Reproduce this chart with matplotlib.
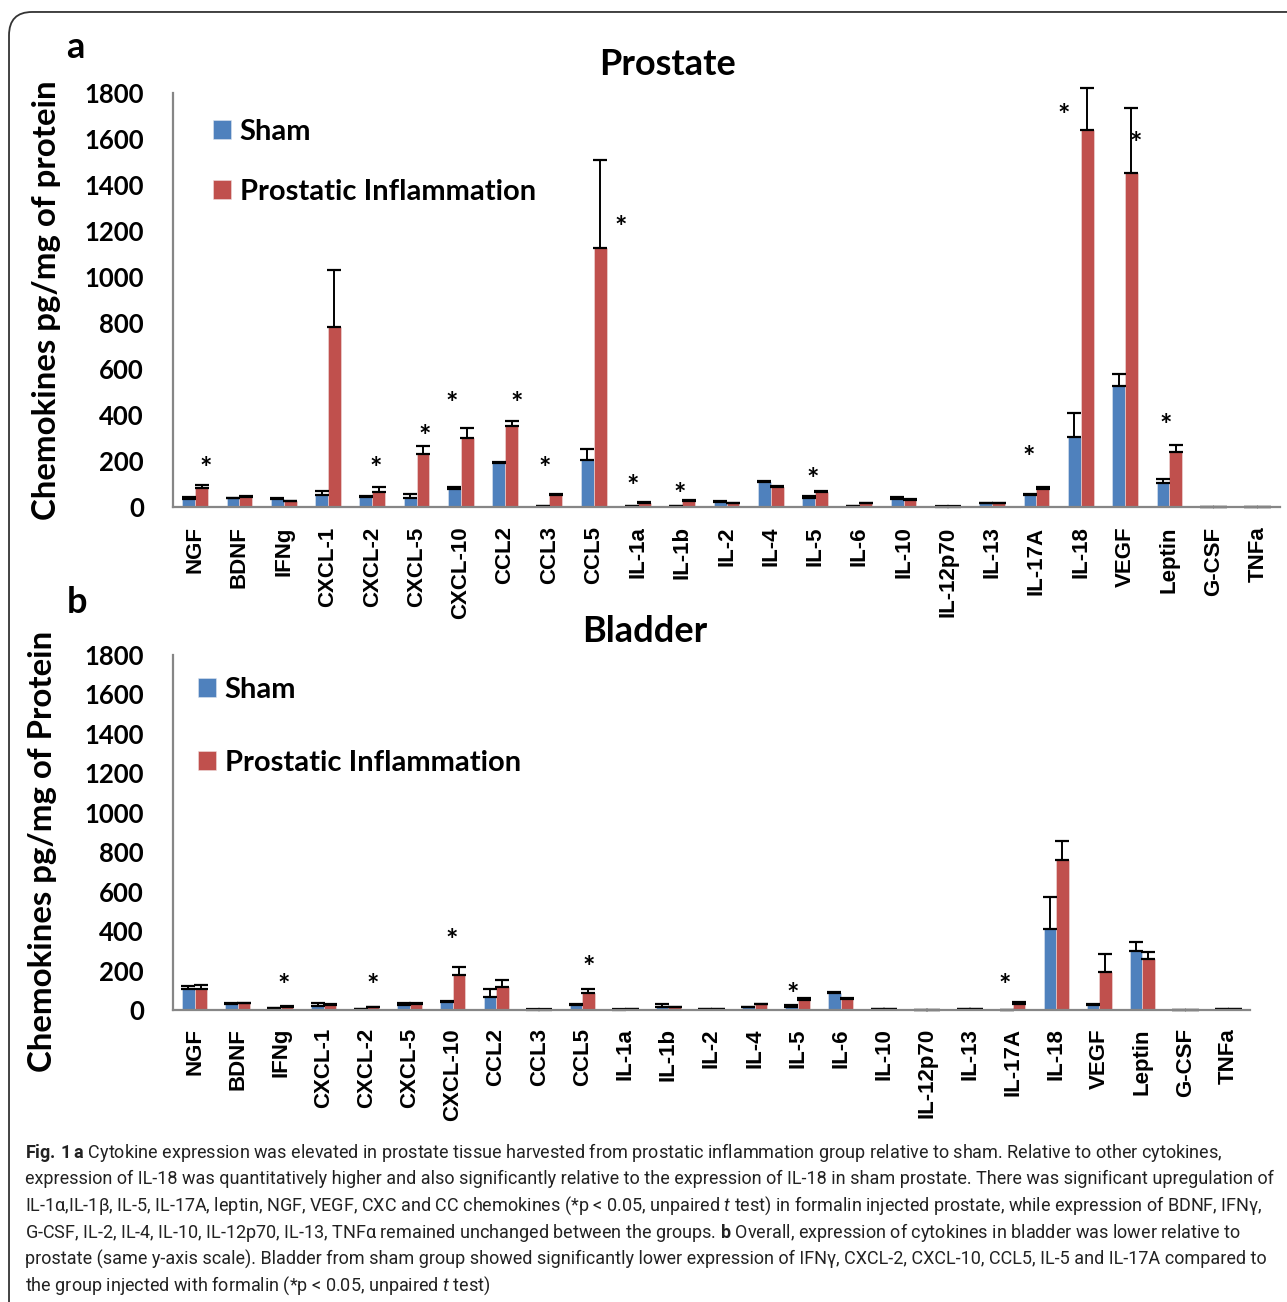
import matplotlib
matplotlib.use("Agg")
import matplotlib.pyplot as plt
import numpy as np
from matplotlib import font_manager
from matplotlib.patches import FancyBboxPatch
from matplotlib.transforms import offset_copy

# categorias (iguais nos dois painéis)
cats = ['NGF', 'BDNF', 'IFNg', 'CXCL-1', 'CXCL-2', 'CXCL-5', 'CXCL-10', 'CCL2',
        'CCL3', 'CCL5', 'IL-1a', 'IL-1b', 'IL-2', 'IL-4', 'IL-5', 'IL-6', 'IL-10',
        'IL-12p70', 'IL-13', 'IL-17A', 'IL-18', 'VEGF', 'Leptin', 'G-CSF', 'TNFa']

# painel a - próstata
prostate_sham = [35, 38, 33, 50, 42, 40, 77, 193, 5, 204, 5, 3, 22, 110, 40, 5,
                 36, 2, 17, 51, 303, 527, 103, 0, 0]
prostate_sham_err = [10, 3, 7, 18, 4, 15, 11, 3, 1, 47, 1, 1, 2, 5, 6, 1,
                     6, 1, 2, 6, 104, 51, 19, 0, 0]
prostate_pi = [83, 45, 24, 783, 65, 229, 301, 352, 52, 1126, 19, 26, 16, 88, 67, 17,
               32, 2, 17, 78, 1639, 1452, 240, 0, 0]
prostate_pi_err = [13, 3, 3, 247, 23, 36, 41, 22, 3, 383, 4, 3, 2, 3, 3, 2,
                   2, 1, 2, 7, 183, 283, 28, 0, 0]
prostate_star_idx = [0, 4, 5, 6, 7, 8, 9, 10, 11, 14, 19, 20, 21, 22]
prostate_star_dx = [0.23, 0.07, 0.19, -0.2, 0.27, -0.1, 0.6, -0.12, -0.05, -0.05,
                    -0.18, -0.38, 0.24, -0.09]
prostate_star_y = [200, 200, 340, 483, 483, 200, 1248, 122, 88, 153, 248, 1735, 1613, 388]

# painel b - bexiga
bladder_sham = [106, 30, 8, 22, 3, 27, 39, 68, 2, 24, 2, 17, 3, 13, 17, 88,
                5, 0, 3, 0, 412, 24, 299, 0, 3]
bladder_sham_err = [14, 3, 2, 12, 1, 10, 8, 37, 1, 6, 1, 13, 1, 4, 10, 4,
                    1, 0, 1, 0, 159, 6, 46, 0, 1]
bladder_pi = [108, 34, 17, 27, 15, 30, 179, 115, 2, 85, 3, 13, 3, 29, 51, 57,
              3, 0, 5, 30, 761, 193, 259, 0, 3]
bladder_pi_err = [19, 3, 2, 5, 2, 3, 37, 35, 1, 21, 1, 2, 1, 3, 8, 4,
                  1, 0, 1, 11, 96, 89, 34, 0, 1]
bladder_star_idx = [2, 4, 6, 9, 14, 19]
bladder_star_dx = [0.06, 0.13, -0.02, 0.16, -0.12, -0.19]
bladder_star_y = [164, 164, 394, 253, 120, 164]

yticks = [0, 200, 400, 600, 800, 1000, 1200, 1400, 1600, 1800]

caption_lines = [
    r"$\mathbf{Fig.\,1\,a}$ Cytokine expression was elevated in prostate tissue harvested from prostatic inflammation group relative to sham. Relative to other cytokines,",
    "expression of IL-18 was quantitatively higher and also significantly relative to the expression of IL-18 in sham prostate. There was significant upregulation of",
    r"IL-1α,IL-1β, IL-5, IL-17A, leptin, NGF, VEGF, CXC and CC chemokines (*p < 0.05, unpaired $\mathit{t}$ test) in formalin injected prostate, while expression of BDNF, IFNγ,",
    r"G-CSF, IL-2, IL-4, IL-10, IL-12p70, IL-13, TNFα remained unchanged between the groups. $\mathbf{b}$ Overall, expression of cytokines in bladder was lower relative to",
    "prostate (same y-axis scale). Bladder from sham group showed significantly lower expression of IFNγ, CXCL-2, CXCL-10, CCL5, IL-5 and IL-17A compared to",
    r"the group injected with formalin (*p < 0.05, unpaired $\mathit{t}$ test)",
]

BLUE = '#4F81BD'
RED = '#C0504D'

names = {f.name for f in font_manager.fontManager.ttflist}
cap_font = 'Liberation Sans Narrow' if 'Liberation Sans Narrow' in names else 'Roboto'
MAIN = 'Lato'
plt.rcParams['font.family'] = [MAIN, 'DejaVu Sans']
plt.rcParams['mathtext.fontset'] = 'custom'
plt.rcParams['mathtext.rm'] = cap_font
plt.rcParams['mathtext.bf'] = cap_font + ':bold'
plt.rcParams['mathtext.it'] = cap_font + ':italic'

fig = plt.figure(figsize=(12.87, 13.02), dpi=100)

# moldura arredondada
frame = FancyBboxPatch((0.007, -0.05), 1.1, 0.9908 + 0.05,
                       boxstyle="round,pad=0,rounding_size=0.018",
                       transform=fig.transFigure, facecolor='none',
                       edgecolor='#333333', linewidth=1.3)
fig.patches.append(frame)


def painel(ax, sham, sham_err, pi, pi_err, st_idx, st_dx, st_y, title, title_xy,
           ylabel, ylab_xy, leg_xy, leg_space, xpad):
    x = np.arange(len(cats))
    w = 0.29
    z = np.zeros(len(cats))
    ek = dict(elinewidth=1.4, capthick=1.6, ecolor='black')
    b1 = ax.bar(x - w / 2, sham, w, color=BLUE, edgecolor='#dfe6f0', linewidth=0.4,
                yerr=[z, sham_err], capsize=5, error_kw=ek, label='Sham', zorder=2)
    b2 = ax.bar(x + w / 2, pi, w, color=RED, edgecolor='#f0dede', linewidth=0.4,
                yerr=[z, pi_err], capsize=5, error_kw=ek,
                label='Prostatic Inflammation', zorder=2)
    # barras de erro podem passar do topo do eixo (IL-18)
    for b in (b1, b2):
        for art in b.errorbar.get_children():
            art.set_clip_on(False)
    tr = offset_copy(ax.transData, fig=fig, y=-6, units='points')
    for i, dx, yv in zip(st_idx, st_dx, st_y):
        ax.text(i + dx, yv, '*', transform=tr, ha='center', va='center',
                fontsize=21, fontweight='bold')
    ax.set_xlim(-0.5, len(cats) - 0.5)
    ax.set_ylim(0, 1800)
    ax.set_yticks(yticks)
    ax.set_yticklabels([str(v) for v in yticks], fontsize=18.5, fontweight='bold')
    ax.set_xticks(x)
    ax.set_xticklabels(cats, rotation=90, fontsize=16, fontweight='bold',
                       family='Liberation Sans', va='top')
    ax.tick_params(axis='both', length=0)
    ax.tick_params(axis='y', pad=21)
    ax.tick_params(axis='x', pad=xpad)
    for s in ['top', 'right']:
        ax.spines[s].set_visible(False)
    for s in ['left', 'bottom']:
        ax.spines[s].set_color('#868686')
        ax.spines[s].set_linewidth(1.6)
    ax.text(title_xy[0], title_xy[1], title, transform=ax.transAxes, ha='center',
            va='center', fontsize=26, fontweight='bold')
    ax.set_ylabel(ylabel, fontsize=23.8, fontweight='bold', va='center')
    ax.yaxis.set_label_coords(*ylab_xy)
    ax.legend(loc='upper left', bbox_to_anchor=leg_xy, frameon=False,
              prop=dict(family=MAIN, weight='bold', size=21),
              handlelength=0.62, handleheight=0.62, handletextpad=0.3,
              labelspacing=leg_space, borderaxespad=0, borderpad=0)


ax1 = fig.add_axes([0.1344, 0.6106, 0.8602, 0.3180])
painel(ax1, prostate_sham, prostate_sham_err, prostate_pi, prostate_pi_err,
       prostate_star_idx, prostate_star_dx, prostate_star_y,
       'Prostate', (0.447, 1.068), 'Chemokines pg/mg of protein', (-0.114, 0.5),
       (0.036, 0.937), 1.17, 14)

ax2 = fig.add_axes([0.1344, 0.2243, 0.8368, 0.2727])
painel(ax2, bladder_sham, bladder_sham_err, bladder_pi, bladder_pi_err,
       bladder_star_idx, bladder_star_dx, bladder_star_y,
       'Bladder', (0.438, 1.065), 'Chemokines pg/mg of Protein', (-0.1216, 0.448),
       (0.023, 0.938), 1.6, 13)

fig.text(75 / 1287, 1 - 48 / 1302, 'a', ha='center', va='center', fontsize=26, fontweight='bold')
fig.text(77 / 1287, 1 - 603 / 1302, 'b', ha='center', va='center', fontsize=26, fontweight='bold')

# legenda da figura: ajusta o tamanho da fonte para a linha 2 ocupar a largura da caixa
cap_texts = []
for k, line in enumerate(caption_lines):
    t = fig.text(25 / 1287, 1 - (1152 + 26.8 * k) / 1302, line, ha='left', va='center',
                 fontsize=14, family=cap_font, color='#222222')
    cap_texts.append(t)
renderer = fig.canvas.get_renderer()
larg = cap_texts[1].get_window_extent(renderer).width
novo = 14 * 1255 / larg
for t in cap_texts:
    t.set_fontsize(novo)

fig.savefig('out.png', dpi=100)
